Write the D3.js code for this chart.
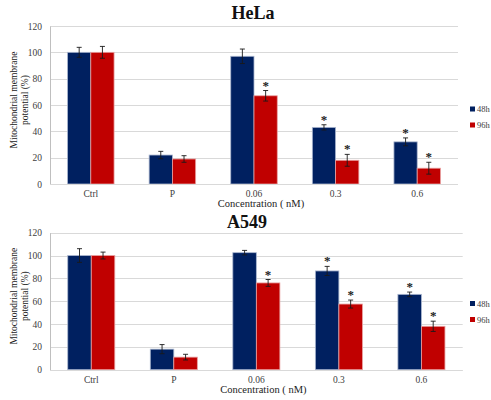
<!DOCTYPE html>
<html>
<head>
<meta charset="utf-8">
<script src="https://cdn.jsdelivr.net/npm/d3@7"></script>
<style>
  html, body { margin: 0; padding: 0; background: #fff; }
  svg { display: block; }
  text { font-family: "Liberation Serif", "Times New Roman", serif; }
</style>
</head>
<body>
<svg id="chart" width="491" height="400"></svg>
<script>
// Dose groups and time points
const categories = ["Ctrl", "P", "0.06", "0.3", "0.6"];
const seriesNames = ["48h", "96h"];
const yTicks = [0, 20, 40, 60, 80, 100, 120];

// HeLa: mean mitochondrial membrane potential (%) and error
const helaMean48 = [100, 22, 97, 43, 32];
const helaErr48  = [3.8, 2.8, 5.5, 2, 3];
const helaMean96 = [100, 19, 67, 18, 12];
const helaErr96  = [4.5, 2.5, 4, 4.5, 4.5];
const helaSig48  = [false, false, false, true, true];
const helaSig96  = [false, false, true, true, true];

// A549: mean mitochondrial membrane potential (%) and error
const a549Mean48 = [100, 18, 102.5, 86.5, 66];
const a549Err48  = [6, 4, 2, 4, 2];
const a549Mean96 = [100, 11, 76, 57.5, 38];
const a549Err96  = [3, 2.5, 3, 3.5, 4.5];
const a549Sig48  = [false, false, false, true, true];
const a549Sig96  = [false, false, true, true, true];

const colors = ["#002060", "#c00000"];
const edgeColors = ["#aab6cf", "#e8a0a0"];

const svg = d3.select("#chart");

function panel(cfg) {
  const g = svg.append("g");
  const x = d3.scaleBand().domain(categories).range([cfg.left, cfg.right]).paddingInner(0.43).paddingOuter(0.215);
  const xs = d3.scaleBand().domain(seriesNames).range([0, x.bandwidth()]);
  const y = d3.scaleLinear().domain([0, 120]).range([cfg.bottom, cfg.top]);

  // gridlines
  g.append("g").selectAll("line").data(yTicks).join("line")
    .attr("x1", cfg.left).attr("x2", cfg.right)
    .attr("y1", d => Math.round(y(d)) + 0.5).attr("y2", d => Math.round(y(d)) + 0.5)
    .attr("stroke", "#d9d9d9").attr("stroke-width", 1);

  // left axis with labels only
  const yAxis = d3.axisLeft(y).tickValues(yTicks).tickSize(0).tickPadding(8);
  const ya = g.append("g").attr("transform", `translate(${cfg.left},0)`).call(yAxis);
  ya.select(".domain").attr("stroke", "#bfbfbf");
  ya.selectAll("text").attr("font-size", 9.5).attr("fill", "#404040")
    .style("font-family", "'Liberation Serif', serif");

  const rows = seriesNames.map((s, si) => categories.map((c, ci) => ({
    cat: c, series: s, si,
    v: cfg.means[si][ci], e: cfg.errs[si][ci], sig: cfg.sigs[si][ci]
  }))).flat();

  // bars
  g.append("g").selectAll("rect").data(rows).join("rect")
    .attr("x", d => x(d.cat) + xs(d.series))
    .attr("y", d => y(d.v))
    .attr("width", xs.bandwidth())
    .attr("height", d => y(0) - y(d.v))
    .attr("fill", d => colors[d.si])
    .attr("stroke", d => edgeColors[d.si])
    .attr("stroke-width", 0.8);

  // baseline
  g.append("line").attr("x1", cfg.left).attr("x2", cfg.right)
    .attr("y1", Math.round(y(0)) + 0.5).attr("y2", Math.round(y(0)) + 0.5)
    .attr("stroke", "#d9d9d9");

  // error bars
  const eb = g.append("g").attr("stroke", "#1a1a1a").attr("stroke-width", 0.9);
  rows.forEach(d => {
    const cx = x(d.cat) + xs(d.series) + xs.bandwidth() / 2;
    eb.append("line").attr("x1", cx).attr("x2", cx).attr("y1", y(d.v + d.e)).attr("y2", y(d.v - d.e));
    eb.append("line").attr("x1", cx - 2.5).attr("x2", cx + 2.5).attr("y1", y(d.v + d.e)).attr("y2", y(d.v + d.e));
    eb.append("line").attr("x1", cx - 2.5).attr("x2", cx + 2.5).attr("y1", y(d.v - d.e)).attr("y2", y(d.v - d.e));
  });

  // significance marks
  g.append("g").selectAll("text").data(rows.filter(d => d.sig)).join("text")
    .attr("x", d => x(d.cat) + xs(d.series) + xs.bandwidth() / 2)
    .attr("y", d => y(d.v + d.e) - 1)
    .attr("text-anchor", "middle")
    .attr("font-size", 13).attr("font-weight", "bold").attr("fill", "#222")
    .text("*");

  // category labels
  g.append("g").selectAll("text").data(categories).join("text")
    .attr("x", d => x(d) + x.bandwidth() / 2)
    .attr("y", cfg.bottom + 13)
    .attr("text-anchor", "middle").attr("font-size", 9.5).attr("fill", "#404040")
    .text(d => d);

  // x-axis title
  g.append("text").attr("x", (cfg.left + cfg.right) / 2 + 7).attr("y", cfg.bottom + 23)
    .attr("text-anchor", "middle").attr("font-size", 10.5).attr("fill", "#222")
    .text("Concentration ( nM)");

  // y-axis title (two lines)
  const yc = (cfg.top + cfg.bottom) / 2 - 5;
  const yt = g.append("text").attr("transform", `translate(17,${yc}) rotate(-90)`)
    .attr("text-anchor", "middle").attr("font-size", 9.5).attr("fill", "#222");
  yt.append("tspan").attr("x", 0).attr("dy", 0).text("Mitochondrial membrane");
  yt.append("tspan").attr("x", 0).attr("dy", 11).text("potential  (%)");

  // panel title
  g.append("text").attr("x", cfg.titleX).attr("y", cfg.titleY)
    .attr("text-anchor", "middle").attr("font-size", 18).attr("font-weight", "bold").attr("fill", "#111")
    .text(cfg.title);

  // legend
  const lg = g.append("g").attr("transform", `translate(470,${cfg.legendY})`);
  seriesNames.forEach((s, i) => {
    lg.append("rect").attr("x", 0).attr("y", i * 16 - 2.5).attr("width", 5).attr("height", 5).attr("fill", colors[i]);
    lg.append("text").attr("x", 7).attr("y", i * 16 + 3).attr("font-size", 8.5).attr("fill", "#404040").text(s);
  });
}

panel({
  title: "HeLa", titleX: 253, titleY: 19,
  top: 26, bottom: 184, left: 50, right: 458, legendY: 109,
  means: [helaMean48, helaMean96], errs: [helaErr48, helaErr96], sigs: [helaSig48, helaSig96]
});

panel({
  title: "A549", titleX: 247, titleY: 227.5,
  top: 232.7, bottom: 369.7, left: 50, right: 462.7, legendY: 303.5,
  means: [a549Mean48, a549Mean96], errs: [a549Err48, a549Err96], sigs: [a549Sig48, a549Sig96]
});
</script>
</body>
</html>
